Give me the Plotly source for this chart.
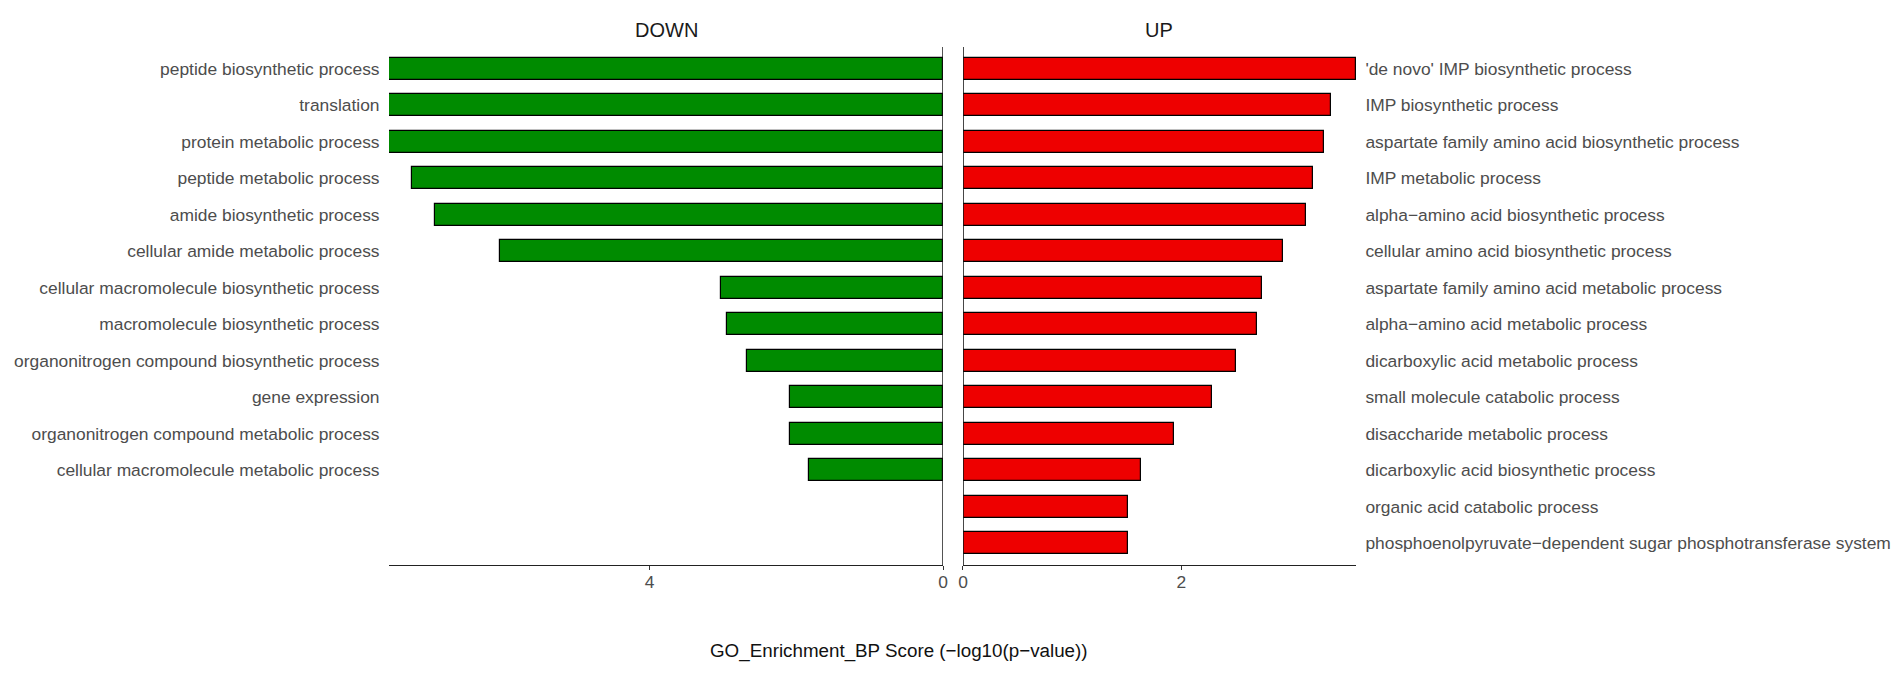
import plotly.graph_objects as go

# ---- data ----
down_terms = [
    "peptide biosynthetic process",
    "translation",
    "protein metabolic process",
    "peptide metabolic process",
    "amide biosynthetic process",
    "cellular amide metabolic process",
    "cellular macromolecule biosynthetic process",
    "macromolecule biosynthetic process",
    "organonitrogen compound biosynthetic process",
    "gene expression",
    "organonitrogen compound metabolic process",
    "cellular macromolecule metabolic process",
]
down_scores = [7.55, 7.55, 7.55, 7.24, 6.92, 6.04, 3.02, 2.95, 2.67, 2.09, 2.09, 1.83]

up_terms = [
    "'de novo' IMP biosynthetic process",
    "IMP biosynthetic process",
    "aspartate family amino acid biosynthetic process",
    "IMP metabolic process",
    "alpha\u2212amino acid biosynthetic process",
    "cellular amino acid biosynthetic process",
    "aspartate family amino acid metabolic process",
    "alpha\u2212amino acid metabolic process",
    "dicarboxylic acid metabolic process",
    "small molecule catabolic process",
    "disaccharide metabolic process",
    "dicarboxylic acid biosynthetic process",
    "organic acid catabolic process",
    "phosphoenolpyruvate\u2212dependent sugar phosphotransferase system",
]
up_scores = [3.60, 3.37, 3.31, 3.21, 3.14, 2.93, 2.74, 2.69, 2.50, 2.28, 1.93, 1.63, 1.51, 1.51]

down_ticks = [0, 4]
up_ticks = [0, 2]
x_title = "GO_Enrichment_BP Score (\u2212log10(p\u2212value))"

# ---- figure ----
W, H = 1902, 673
FONT = "Liberation Sans, Arial, Helvetica, sans-serif"
n_rows = max(len(down_terms), len(up_terms))
yrange = [n_rows - 1 + 0.6, -0.6]

left_dom = [378 / W, 935 / W]
right_dom = [955 / W, 1350 / W]
ydom = [1 - 557 / H, 1 - 39 / H]

fig = go.Figure()
fig.add_trace(go.Bar(
    x=down_scores, y=list(range(len(down_terms))), orientation="h",
    width=0.6, marker=dict(color="#008B00", line=dict(color="#000000", width=1.2)),
    xaxis="x", yaxis="y", showlegend=False, hoverinfo="x+y",
))
fig.add_trace(go.Bar(
    x=up_scores, y=list(range(len(up_terms))), orientation="h",
    width=0.6, marker=dict(color="#EE0000", line=dict(color="#000000", width=1.2)),
    xaxis="x2", yaxis="y2", showlegend=False, hoverinfo="x+y",
))

tickfont = dict(family=FONT, size=17.4, color="#4D4D4D")
axis_common = dict(showgrid=False, zeroline=False, showline=True, linecolor="#222222",
                   linewidth=1.3, ticks="outside", ticklen=4, tickcolor="#333333",
                   tickwidth=1.2, tickfont=tickfont, ticklabelstandoff=-3)

fig.update_layout(
    width=W, height=H,
    margin=dict(l=0, r=0, t=0, b=0),
    paper_bgcolor="white", plot_bgcolor="white",
    bargap=0,
    xaxis=dict(domain=left_dom, range=[max(down_scores), 0], anchor="y",
               tickvals=down_ticks, ticktext=[str(v) for v in down_ticks], **axis_common),
    xaxis2=dict(domain=right_dom, range=[0, max(up_scores)], anchor="y2",
                tickvals=up_ticks, ticktext=[str(v) for v in up_ticks], **axis_common),
    yaxis=dict(domain=ydom, range=yrange, anchor="x", side="left",
               tickvals=list(range(len(down_terms))), ticktext=down_terms,
               showgrid=False, zeroline=False, showline=False,
               ticks="outside", ticklen=5, tickcolor="rgba(0,0,0,0)", tickfont=tickfont),
    yaxis2=dict(domain=ydom, range=yrange, anchor="x2", side="right",
                tickvals=list(range(len(up_terms))), ticktext=up_terms,
                showgrid=False, zeroline=False, showline=False,
                ticks="outside", ticklen=5, tickcolor="rgba(0,0,0,0)", tickfont=tickfont),
)

# zero lines (vertical axis lines at x = 0 in each panel)
fig.add_shape(type="line", xref="x", yref="y domain", x0=0, x1=0, y0=0, y1=1,
              line=dict(color="#111111", width=1.6))
fig.add_shape(type="line", xref="x2", yref="y2 domain", x0=0, x1=0, y0=0, y1=1,
              line=dict(color="#111111", width=1.6))

# panel titles
strip_font = dict(family=FONT, size=20, color="#1A1A1A")
fig.add_annotation(text="DOWN", xref="paper", yref="paper",
                   x=(left_dom[0] + left_dom[1]) / 2, y=1 - 22 / H,
                   showarrow=False, font=strip_font, xanchor="center", yanchor="middle")
fig.add_annotation(text="UP", xref="paper", yref="paper",
                   x=(right_dom[0] + right_dom[1]) / 2, y=1 - 22 / H,
                   showarrow=False, font=strip_font, xanchor="center", yanchor="middle")

# x title
fig.add_annotation(text=x_title, xref="paper", yref="paper",
                   x=891 / W, y=1 - 643 / H, showarrow=False,
                   font=dict(family=FONT, size=18.8, color="#111111"),
                   xanchor="center", yanchor="middle")

fig.write_html("out.html")
